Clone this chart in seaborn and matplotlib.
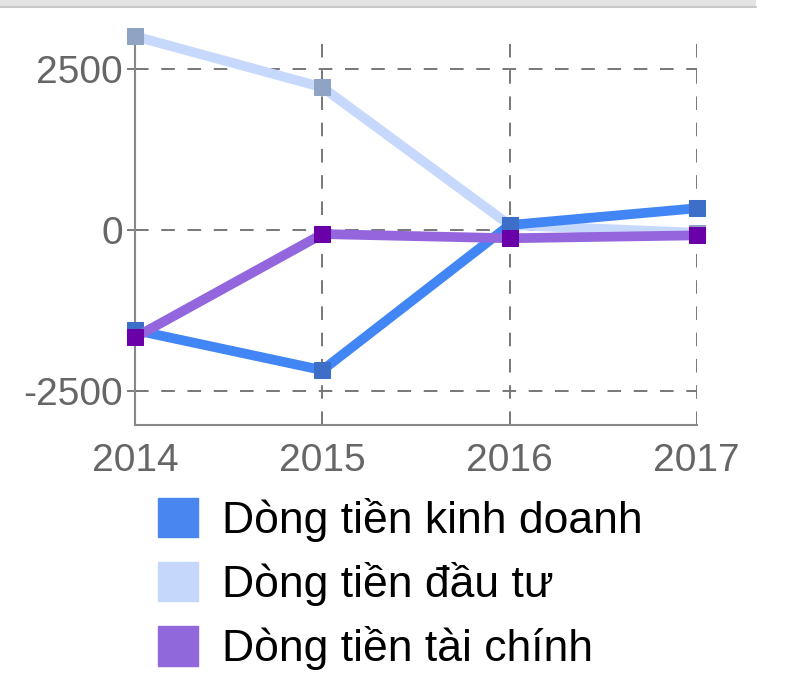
import matplotlib.pyplot as plt
import matplotlib.patches as mpatches
import numpy as np
import pandas as pd
import seaborn as sns

years = [2014, 2015, 2016, 2017]
kinh_doanh = [-1550, -2170, 80, 340]
dau_tu = [3005, 2215, 80, -40]
tai_chinh = [-1660, -60, -125, -80]
labels = ["Dòng tiền kinh doanh", "Dòng tiền đầu tư", "Dòng tiền tài chính"]

df = pd.DataFrame({"nam": years, "kd": kinh_doanh, "dt": dau_tu, "tc": tai_chinh})

sns.set_style("white")
plt.rcParams['font.family'] = ['Liberation Sans', 'DejaVu Sans']
plt.rcParams['axes.unicode_minus'] = False

fig = plt.figure(figsize=(8, 6.76), dpi=100)
ax = fig.add_axes([0.169, 0.3713, 0.702, 0.5754])

# thanh xam phia tren
fig.patches.append(mpatches.Rectangle((0, 0.989), 0.945, 0.011, transform=fig.transFigure,
                                      facecolor="#e3e3e3", edgecolor="none", zorder=0))
fig.lines.append(plt.Line2D([0, 0.945], [0.989, 0.989], transform=fig.transFigure,
                            color="#c8c8c8", lw=1.5))

sns.lineplot(data=df, x="nam", y="dt", color="#c6d9fc", lw=7, marker="s", markersize=12,
             markerfacecolor="#8fa3c4", markeredgecolor="#8fa3c4", ax=ax, clip_on=False, zorder=3)
sns.lineplot(data=df, x="nam", y="kd", color="#4285f4", lw=7, marker="s", markersize=12,
             markerfacecolor="#3d6fc8", markeredgecolor="#3d6fc8", ax=ax, clip_on=False, zorder=4)
sns.lineplot(data=df, x="nam", y="tc", color="#9366dd", lw=7, marker="s", markersize=12,
             markerfacecolor="#6a00a8", markeredgecolor="#6a00a8", ax=ax, clip_on=False, zorder=5)

ax.set_xlim(2014, 2017)
ax.set_ylim(-3020, 3010)
ax.set_xticks(years)
ax.set_xticklabels([str(y) for y in years])
ax.set_yticks([-2500, 0, 2500])
ax.set_xlabel("")
ax.set_ylabel("")
ax.grid(True, linestyle=(0, (7, 6.5)), color="#777777", lw=1.4)
for s in ["top", "right"]:
    ax.spines[s].set_visible(False)
for s in ["left", "bottom"]:
    ax.spines[s].set_color("#888888")
    ax.spines[s].set_linewidth(1.5)
ax.tick_params(axis="y", colors="#666666", labelsize=28, length=6, width=1.2, pad=3, left=True)
ax.tick_params(axis="x", colors="#666666", labelsize=28, length=0, pad=13)

handles = [mpatches.Patch(color=c) for c in ["#4a86f0", "#c5d8fb", "#9168db"]]
fig.legend(handles, labels, loc="upper left", bbox_to_anchor=(0.197, 0.264), frameon=False,
           fontsize=32, labelcolor="black", handlelength=0.9, handleheight=1.0,
           handletextpad=0.55, labelspacing=0.45, borderaxespad=0, borderpad=0)

plt.savefig("out.png", dpi=100)
